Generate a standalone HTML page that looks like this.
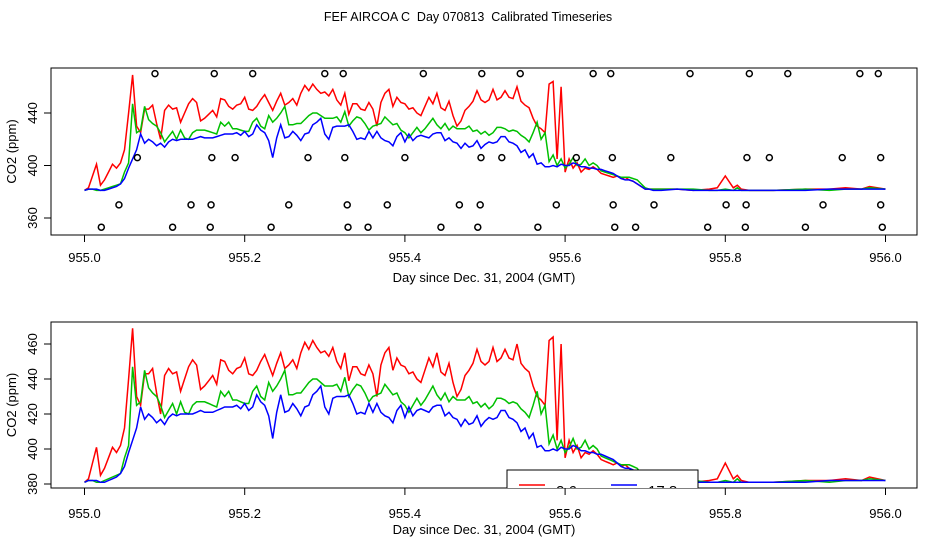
<!DOCTYPE html>
<html><head><meta charset="utf-8"><style>
html,body{margin:0;padding:0;background:#fff;}
svg{display:block;font-family:"Liberation Sans",sans-serif;}
</style></head><body>
<svg id="chart" width="936" height="540" viewBox="0 0 936 540">
<text x="468" y="21" text-anchor="middle" font-size="12.5" xml:space="preserve">FEF AIRCOA C  Day 070813  Calibrated Timeseries</text>
<defs>
<clipPath id="clipTop"><rect x="51" y="68" width="866" height="167"/></clipPath>
<clipPath id="clipBot"><rect x="51" y="322" width="866" height="166"/></clipPath>
</defs>
<g id="top"></g>
<g id="bot"></g>
</svg>
<script>
const redMain=[381,383,392,401,385,389,395,401,398,402,412,440,469,430,425,443,443,446,432,420,442,446,443,444,433,440,447,451,448,434,436,439,442,437,451,450,445,443,446,447,452,443,442,445,450,454,448,442,449,455,446,448,451,446,455,461,457,462,458,455,456,453,458,450,446,455,439,447,447,443,442,448,443,430,448,455,458,445,452,448,447,443,444,440,438,445,452,447,455,444,442,449,438,430,434,442,445,449,457,450,448,450,458,450,452,457,452,451,460,449,446,444,436,430,428,425,462,464,405,460,395,405,398,402,395,398,397,399,397,394,393,392,391,392,390,391,389,388,386,384,382,382,382,382,382];
const greenMain=[381,382,382,381,381,382,383,384,385,386,395,402,447,425,427,445,435,432,430,425,418,422,426,420,427,421,420,425,427,427,427,426,425,424,433,430,433,428,428,427,426,426,433,436,430,428,438,433,436,440,445,431,431,432,432,435,438,440,440,438,436,436,436,437,433,441,430,434,437,436,432,427,430,431,432,437,434,431,432,427,425,421,425,429,425,428,432,436,431,428,432,427,430,428,428,428,430,426,427,424,426,423,425,429,429,428,426,427,426,423,421,418,425,433,420,425,403,408,400,405,398,401,406,400,401,405,400,402,400,396,395,394,393,392,391,391,391,390,389,386,383,382,382,382,382];
const blueMain=[381,382,382,382,381,381,382,383,384,386,390,398,405,412,424,417,420,418,415,417,414,418,420,419,420,420,420,420,421,422,421,421,421,422,423,424,424,424,425,423,426,422,424,431,427,425,419,406,421,431,421,422,426,423,419,424,425,431,433,436,424,420,429,430,430,430,431,426,420,421,420,426,421,426,421,419,418,415,422,425,418,424,419,422,423,422,421,424,425,425,419,421,418,417,413,417,414,415,419,413,416,418,417,418,422,422,418,417,415,410,412,406,409,401,402,399,399,400,399,401,400,400,402,401,399,399,398,398,397,397,396,395,394,392,390,389,389,388,386,384,382,382,381,381,381];
const mainStart=955.0, mainStep=0.005;
const tailTimes=[955.74,955.76,955.78,955.79,955.80,955.81,955.815,955.82,955.83,955.86,955.90,955.93,955.95,955.97,955.98,956.0];
const redTail=[382,381,382,383,392,383,385,382,381,381,382,382,383,382,384,382];
const greenTail=[382,382,381,381,382,381,383,381,381,381,382,381,382,382,383,382];
const blueTail=[382,381,381,381,381,381,381,381,381,381,381,382,382,382,382,382];
const flagLevels=[470,406,370,353];
const flagTimes=[
[955.088,955.162,955.210,955.300,955.323,955.423,955.496,955.544,955.635,955.657,955.756,955.830,955.878,955.968,955.991],
[955.066,955.159,955.188,955.279,955.325,955.400,955.495,955.521,955.614,955.659,955.732,955.827,955.855,955.946,955.994],
[955.043,955.133,955.158,955.255,955.328,955.378,955.468,955.494,955.589,955.660,955.711,955.801,955.826,955.922,955.994],
[955.021,955.110,955.157,955.233,955.329,955.354,955.445,955.491,955.566,955.662,955.688,955.778,955.825,955.900,955.996]];
const xTicks=[955.0,955.2,955.4,955.6,955.8,956.0];
const xTickLabels=["955.0","955.2","955.4","955.6","955.8","956.0"];
const topYTicks=[360,400,440];
const botYTicks=[380,400,420,440,460];
const legendLabels=["2.6 m","17.8 m"];

const NS="http://www.w3.org/2000/svg";
function mk(tag,attrs,parent){const e=document.createElementNS(NS,tag);for(const k in attrs)e.setAttribute(k,attrs[k]);parent.appendChild(e);return e;}
const xS=t=>84.5+(t-955)*801;
function series(main,tail){const pts=main.map((v,i)=>[mainStart+i*mainStep,v]);tailTimes.forEach((t,i)=>pts.push([t,tail[i]]));return pts;}
const colors=["#ff0000","#00c000","#0000ff"];
const allSeries=[series(redMain,redTail),series(greenMain,greenTail),series(blueMain,blueTail)];
const sNames=["series-2-6m","series-mid","series-17-8m"];

function panel(g,top,bottom,yS,yTicks,clip,xlabY,ticklabY,withFlags){
  const box=mk('rect',{x:51,y:top,width:866,height:bottom-top,fill:'none',stroke:'#000','stroke-width':1},g);
  
  
  const lg=mk('g',{'clip-path':'url(#'+clip+')'},g);
  
  
  allSeries.forEach((s,k)=>{
    const p=mk('polyline',{points:s.map(d=>xS(d[0]).toFixed(1)+','+yS(d[1]).toFixed(1)).join(' '),fill:'none',stroke:colors[k],'stroke-width':1.5},lg);
    
    
  });
  if(withFlags){
    flagLevels.forEach((lv,r)=>flagTimes[r].forEach(t=>{
      const c=mk('circle',{cx:xS(t),cy:yS(lv),r:3,fill:'none',stroke:'#000','stroke-width':1.5},g);
      
      
    }));
  }
  xTicks.forEach((t,i)=>{
    const l=mk('line',{x1:xS(t),x2:xS(t),y1:bottom,y2:bottom+7,stroke:'#000'},g);
    
    
    const tx=mk('text',{x:xS(t),y:ticklabY,'text-anchor':'middle','font-size':13},g);
    tx.textContent=xTickLabels[i];
    
    
  });
  yTicks.forEach(v=>{
    const y=yS(v);
    const l=mk('line',{x1:44,x2:51,y1:y,y2:y,stroke:'#000'},g);
    
    
    const tx=mk('text',{x:0,y:0,'text-anchor':'middle','font-size':13,transform:'translate(37,'+y+') rotate(-90)'},g);
    tx.textContent=String(v);
    
    
  });
  const xl=mk('text',{x:484,y:xlabY,'text-anchor':'middle','font-size':13},g);
  xl.textContent='Day since Dec. 31, 2004 (GMT)';
  
  
  const yl=mk('text',{x:0,y:0,'text-anchor':'middle','font-size':13,transform:'translate(16,'+((top+bottom)/2)+') rotate(-90)'},g);
  yl.textContent='CO2 (ppm)';
  
  
}
const topG=document.getElementById('top'), botG=document.getElementById('bot');
panel(topG,68,235,v=>218-(v-360)*1.3125,topYTicks,'clipTop',282,262,true);
panel(botG,322,488,v=>484-(v-380)*1.75,botYTicks,'clipBot',534,518,false);
const leg=mk('g',{'clip-path':'url(#clipBot)'},botG);


mk('rect',{x:507,y:470,width:191,height:40,fill:'#fff',stroke:'#000'},leg);
const legCols=[colors[0],colors[2]], legX=[519,611];
legendLabels.forEach((lab,i)=>{
  const ln=mk('line',{x1:legX[i],x2:legX[i]+26,y1:485,y2:485,stroke:legCols[i],'stroke-width':1.5},leg);
  
  
  const tx=mk('text',{x:legX[i]+37,y:496,'font-size':15},leg);
  tx.textContent=lab;
  
  
});
</script>
</body></html>
